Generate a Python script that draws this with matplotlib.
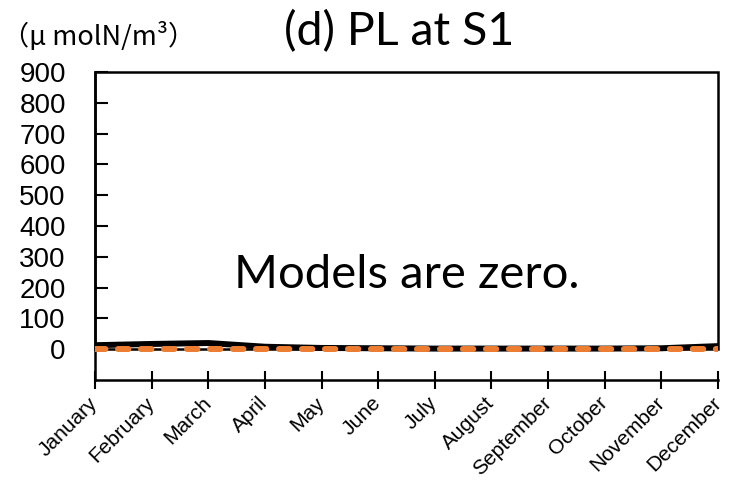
import matplotlib
matplotlib.use("Agg")
import matplotlib.pyplot as plt
from matplotlib.patches import Rectangle

# data
months = ["January", "February", "March", "April", "May", "June", "July",
          "August", "September", "October", "November", "December"]
observed = [13, 17, 20, 8, 4, 3, 2, 2, 2, 2, 3, 10]
model = [0, 0, 0, 0, 0, 0, 0, 0, 0, 0, 0, 0]
yticks = [0, 100, 200, 300, 400, 500, 600, 700, 800, 900]

fig = plt.figure(figsize=(7.33, 4.84), dpi=100)
ax = fig.add_axes([95/733, 104/484, 623/733, 308/484])

x = list(range(len(months)))
ax.plot(x, observed, color="black", lw=4.3, solid_capstyle="butt", zorder=3)
ax.plot(x, model, color="#ED7D31", lw=4.3, dashes=(1.75, 2.1),
        dash_capstyle="round", zorder=4)

# frame box around the data region
ax.add_patch(Rectangle((0, 0), 11, 900, fill=False, edgecolor="black",
                       lw=1.8, zorder=2, clip_on=False))

ax.set_xlim(0, 11)
ax.set_ylim(-100, 900)
ax.set_yticks(yticks)
ax.set_yticklabels([str(v) for v in yticks], fontsize=20,
                   family="Liberation Sans")
ax.set_xticks(x)
ax.set_xticklabels(months, rotation=45, ha="right", va="center",
                   rotation_mode="anchor", fontsize=15,
                   family="Liberation Sans")

for s in ["top", "right"]:
    ax.spines[s].set_visible(False)
for s in ["left", "bottom"]:
    ax.spines[s].set_linewidth(1.8)

ax.tick_params(axis="y", direction="in", length=9, width=1.5, pad=21)
ax.tick_params(axis="x", direction="inout", length=13, width=1.5, pad=8)

ax.text(5.5, 240, "Models are zero.", ha="center", va="center",
        fontsize=34, family="Lato")

fig.text(0.545, 0.935, "(d) PL at S1", ha="center", va="center",
         fontsize=33.5, family="Lato")
fig.text(0.003, 0.925, "（μ molN/m³）", ha="left", va="center",
         fontsize=19.5, family=["Noto Sans CJK JP", "DejaVu Sans"])

fig.savefig("out.png", dpi=100)
